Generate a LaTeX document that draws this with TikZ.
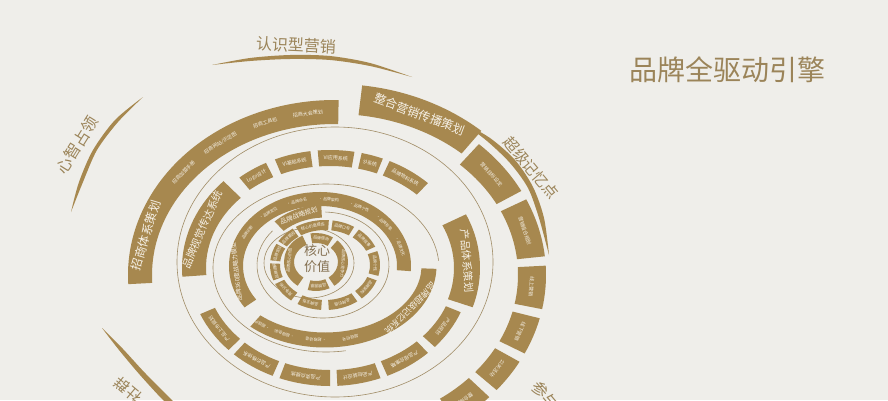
\documentclass[tikz,border=0pt]{standalone}
\usepackage{fontspec}
\setmainfont{Noto Sans CJK SC}

\definecolor{gold}{HTML}{A7884F}
\definecolor{paper}{HTML}{EFEEEA}
\definecolor{hair}{HTML}{A08C66}
\definecolor{ink}{HTML}{9B8459}
\definecolor{onband}{HTML}{F6F1E7}
\definecolor{coreink}{HTML}{857152}

\tikzset{
  tinytext/.style={text=onband, font=\fontsize{4}{4}\selectfont, inner sep=0pt},
  smalltext/.style={text=onband, font=\fontsize{5}{5}\selectfont, inner sep=0pt},
  midtext/.style={text=onband, font=\fontsize{6.5}{7}\selectfont, inner sep=0pt},
  headtext/.style={text=onband, font=\fontsize{10.5}{11}\selectfont, inner sep=0pt},
  bigtext/.style={text=onband, font=\fontsize{12}{12}\selectfont, inner sep=0pt},
  hairline/.style={draw=hair, line width=0.6pt},
  outerlabel/.style={text=ink, font=\fontsize{16}{16}\selectfont, inner sep=0pt}
}

\newcommand{\ringat}[5]{\def\rcx{#1}\def\rcy{#2}\def\rrx{#3}\def\rry{#4}\def\rw{#5}}
\newcommand{\band}[2]{%
  \pgfmathsetmacro{\rxo}{\rrx+\rw/2}%
  \pgfmathsetmacro{\ryo}{\rry+\rw/2}%
  \pgfmathsetmacro{\rxi}{\rrx-\rw/2}%
  \pgfmathsetmacro{\ryi}{\rry-\rw/2}%
  \pgfmathsetmacro{\xs}{\rcx+\rxo*cos(#1)}%
  \pgfmathsetmacro{\ys}{\rcy+\ryo*sin(#1)}%
  \pgfmathsetmacro{\xe}{\rcx+\rxi*cos(#2)}%
  \pgfmathsetmacro{\ye}{\rcy+\ryi*sin(#2)}%
  \fill[gold] (\xs pt,\ys pt) arc[start angle=#1,end angle=#2,x radius=\rxo pt,y radius=\ryo pt]
    -- (\xe pt,\ye pt) arc[start angle=#2,end angle=#1,x radius=\rxi pt,y radius=\ryi pt] -- cycle;}
\newcommand{\lbl}[4][smalltext]{%
  \pgfmathsetmacro{\am}{#3}%
  \pgfmathsetmacro{\xm}{\rcx+\rrx*cos(\am)}%
  \pgfmathsetmacro{\ym}{\rcy+\rry*sin(\am)}%
  \pgfmathsetmacro{\rot}{atan2(-\rry*cos(\am),\rrx*sin(\am))}%
  \node[#1,rotate=\rot] (#2) at (\xm pt,\ym pt) {#4};}
\newcommand{\seg}[5][smalltext]{\band{#3}{#4}\lbl[#1]{#2}{(#3+#4)/2}{#5}}
\newcommand{\hairarc}[6]{%
  \pgfmathsetmacro{\xs}{#1+#3*cos(#5)}%
  \pgfmathsetmacro{\ys}{#2+#4*sin(#5)}%
  \draw[hairline] (\xs pt,\ys pt) arc[start angle=#5,end angle=#6,x radius=#3pt,y radius=#4pt];}

\begin{document}
\begin{tikzpicture}[x=1pt,y=1pt]
  \useasboundingbox (0,0) rectangle (888,400);
  \clip (0,0) rectangle (888,400);
  \fill[paper] (0,0) rectangle (888,400);

  \draw[hairline] (309,137) ellipse[x radius=45pt,y radius=35pt];
  \hairarc{323}{135}{66}{53}{88}{-220}
  \hairarc{326}{132}{113}{84}{5}{280}
  \draw[hairline] (335,138) ellipse[x radius=158pt,y radius=135pt];

  \ringat{316}{138}{27}{24}{10}
  \seg[tinytext]{a1}{100}{58}{品牌使命}
  \seg[tinytext]{a2}{48}{-55}{品牌核心竞争力}
  \seg[tinytext]{a3}{-65}{-105}{品牌愿景}
  \seg[tinytext]{a4}{235}{115}{品牌核心价值}

  \ringat{325}{135}{50}{40}{10}
  \seg[tinytext]{b1}{122}{86}{核心价值提炼}
  \seg[tinytext]{b2}{148}{126}{品牌基因}
  \seg[tinytext]{b3}{174}{152}{品牌定位}
  \seg[tinytext]{b4}{200}{178}{品牌调研}
  \seg[tinytext]{b5}{232}{205}{竞争分析}
  \seg[tinytext]{b6}{266}{240}{品牌主张}
  \seg[tinytext]{b7}{82}{58}{品牌口号}
  \seg[tinytext]{b8}{52}{24}{品牌故事}
  \seg[tinytext]{b9}{18}{-14}{品牌个性}
  \seg[tinytext]{b10}{-20}{-48}{品牌架构}
  \seg[tinytext]{b11}{-54}{-86}{品牌价值}
  \ringat{325}{135}{66}{54}{13}
  \seg[midtext]{btitle}{134}{93}{品牌战略规划}

  \ringat{320}{134}{84}{67}{14}
  \band{214}{-4}
  \lbl[midtext, font=\fontsize{6}{6}\selectfont]{cmodel}{185}{品牌360度战略力模型}
  \lbl[tinytext]{ci1}{150}{品牌诊断}
  \lbl[tinytext]{ci2}{128}{•\,品牌定位}
  \lbl[tinytext]{ci3}{106}{•\,品牌命名}
  \lbl[tinytext]{ci4}{84}{•\,品牌架构}
  \lbl[tinytext]{ci5}{62}{•\,品牌个性}
  \lbl[tinytext]{ci6}{40}{•\,品牌形象}
  \lbl[tinytext]{ci7}{17}{•\,品牌文化}

  \ringat{325}{134}{104}{74}{15}
  \band{-2}{-132}
  \lbl[midtext, font=\fontsize{8.5}{9}\selectfont]{c2title}{-35}{品牌超级记忆系统}
  \lbl[tinytext]{c2i1}{-76}{超级符号}
  \lbl[tinytext]{c2i2}{-95}{•\,超级话语}
  \lbl[tinytext]{c2i3}{-113}{•\,超级色彩}
  \lbl[tinytext]{c2i4}{-127}{•\,超级IP}

  \ringat{330}{132}{136}{113}{24}
  \seg[headtext]{dtitle}{184}{136}{品牌视觉传达系统}
  \ringat{330}{132}{133}{110}{16}
  \seg{d1}{130}{117}{Logo设计}
  \seg{d2}{113}{98}{VI基础系统}
  \seg{d3}{95}{80}{VI应用系统}
  \seg{d4}{77}{68}{SI系统}
  \seg{d5}{65}{46}{品牌物料系统}
  \seg{d6}{-22}{-42}{产品规划}
  \seg{d7}{-46}{-66}{产品组合策略}
  \seg{d8}{-69}{-87}{产品包装设计}
  \seg{d9}{-90}{-111}{产品卖点提炼}
  \seg{d10}{-114}{-133}{产品价格体系}
  \seg{d11}{-136}{-157}{产品上市规划}
  \ringat{330}{132}{137}{114}{26}
  \seg[headtext]{dtitle2}{25}{-18}{产品体系策划}

  \ringat{335}{125}{195}{163}{24}
  \band{183}{89}
  \lbl[bigtext]{etitle}{166}{招商体系策划}
  \lbl{e1}{141}{招商加盟手册}
  \lbl{e2}{126}{招商网站/示范图}
  \lbl{e3}{111}{招商工具包}
  \lbl{e4}{98}{招商大会策划}
  \ringat{335}{125}{197}{165}{28}
  \seg{e5}{47}{28}{营销目标设定}
  \seg{e6}{25}{6}{营销组合规划}
  \seg{e7}{3}{-11}{线上营销}
  \seg{e8}{-14}{-26}{线下营销}
  \seg{e9}{-29}{-40}{公关活动}
  \seg{e10}{-43}{-55}{整合推广}
  \ringat{335}{125}{208}{176}{30}
  \seg[bigtext]{etitle2}{83}{49}{整合营销传播策划}

  \fill[gold] plot[smooth] coordinates {(212,335) (250,342) (290,345) (330,344) (370,337) (412,323)}
    -- plot[smooth] coordinates {(412,323) (370,334) (330,340) (290,341) (250,339) (212,335)} -- cycle;
  \fill[gold] plot[smooth] coordinates {(462,278) (490,262) (515,240) (533,213) (544,182) (549,145)}
    -- plot[smooth] coordinates {(549,145) (539,182) (528,212) (510,237) (487,259) (462,278)} -- cycle;
  \fill[gold] plot[smooth] coordinates {(143,303) (115,280) (93,250) (79,218) (71,188)}
    -- plot[smooth] coordinates {(71,188) (83,218) (97,250) (118,278) (143,303)} -- cycle;
  \fill[gold] plot[smooth] coordinates {(102,72) (119,50) (140,25) (163,0) (175,-10)}
    -- plot[smooth] coordinates {(180,-8) (146,26) (123,51) (102,72)} -- cycle;

  \node[text=coreink, font=\fontsize{13}{16}\selectfont, align=center, inner sep=0pt] (core) at (317,141) {核心\\价值};
  \node[outerlabel, rotate=-2.5] (cognition) at (296,355) {认识型营销};
  \node[outerlabel, rotate=58] (mind) at (77,255) {心智占领};
  \node[outerlabel, font=\fontsize{15}{15}\selectfont, rotate=-50] (memory) at (531,232) {超级记忆点};
  \node[outerlabel, rotate=-50, anchor=west] (join) at (535,17) {参与感};
  \node[outerlabel, font=\fontsize{15}{15}\selectfont, rotate=140] (social) at (128,10) {社群};
  \node[text=ink, font=\fontsize{28}{28}\selectfont, inner sep=0pt] (engine) at (727,330) {品牌全驱动引擎};
\end{tikzpicture}
\end{document}
